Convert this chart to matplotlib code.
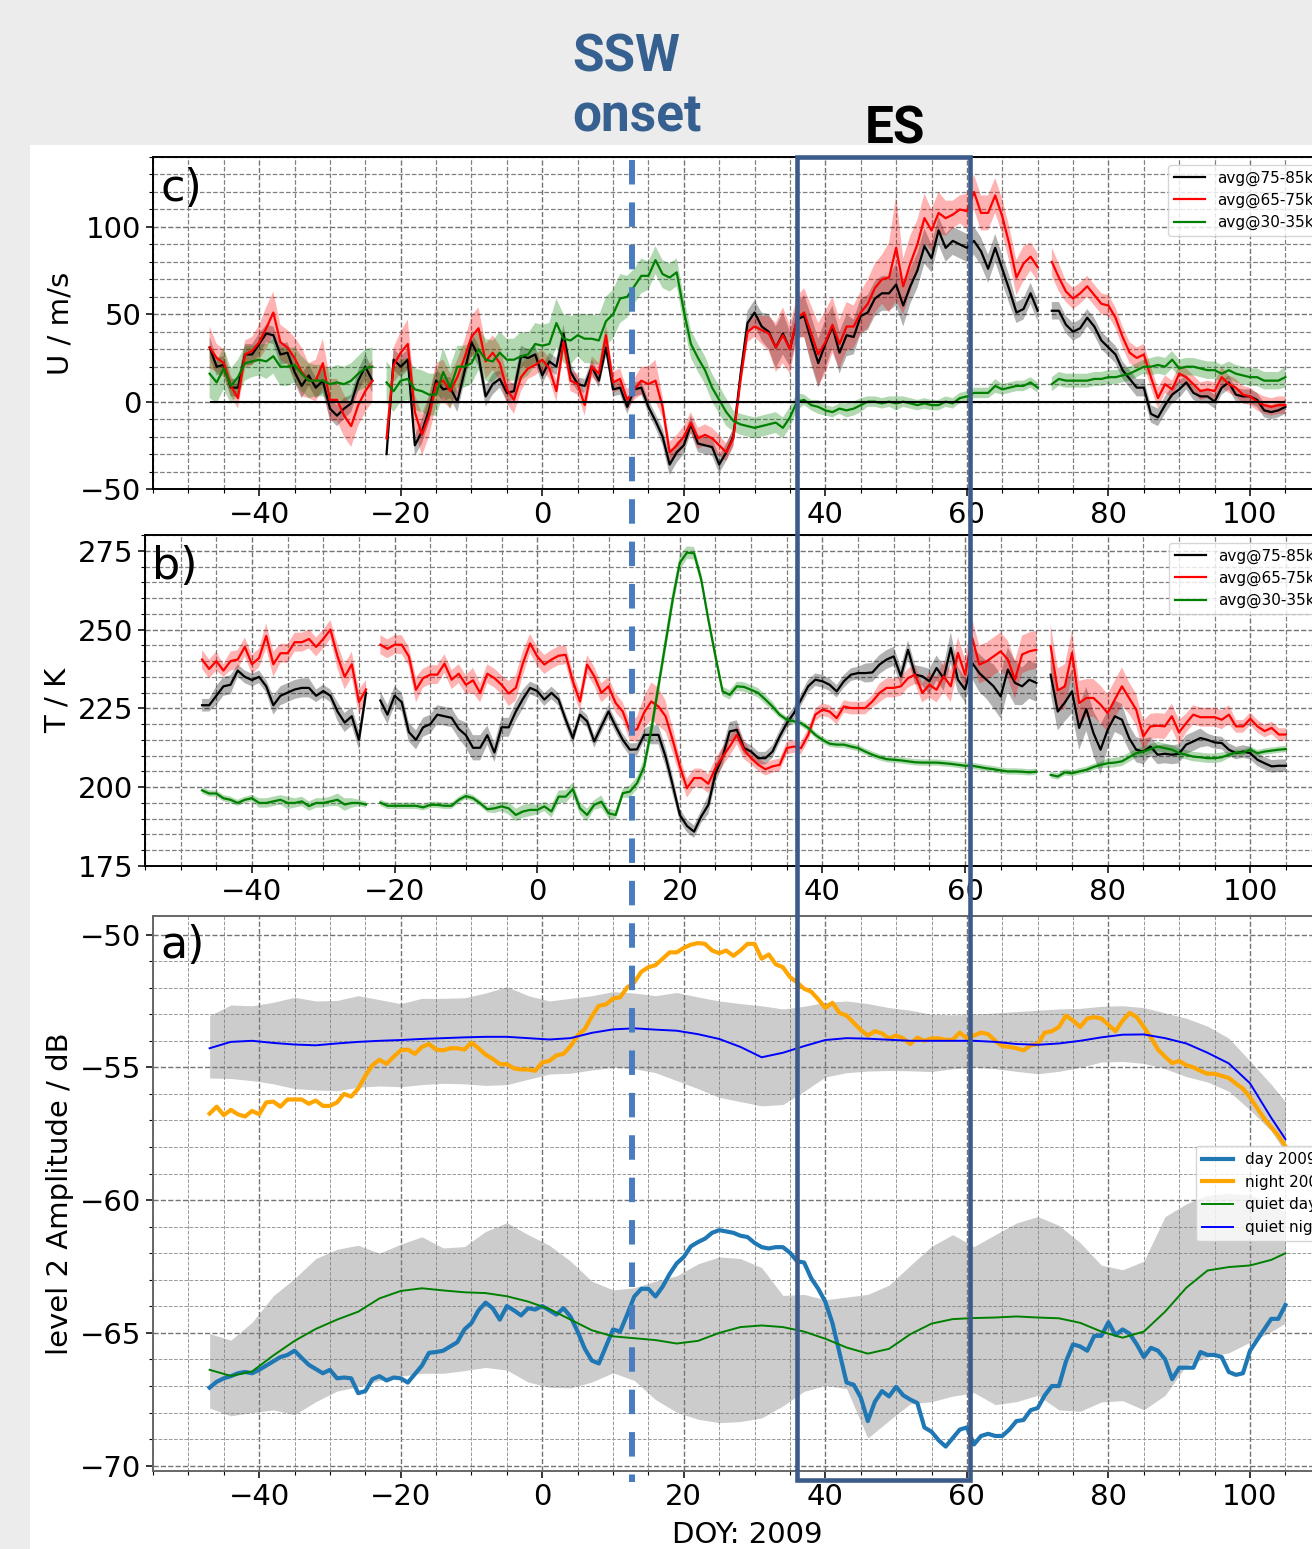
import numpy as np
import matplotlib
matplotlib.use("Agg")
import matplotlib.pyplot as plt
from matplotlib.ticker import MultipleLocator
from matplotlib.lines import Line2D
from matplotlib.patches import Rectangle

nan = np.nan

# --- dados: dias (DOY 2009), uma falha em -23 e outra em 71 ---
days = np.arange(-47, 106)

# painel c) vento zonal U (m/s), 3 segmentos
u_black = [[31, 20, 21, 8, 8, 27, 27, 33, 39, 38, 27, 28, 17, 9, 15, 8, 12, -4, -8, -4, -1, 12, 20, 12],
           [-30, 24, 20, 24, -25, -17, -5, 12, 7, 8, 0, 17, 34, 26, 3, 10, 13, 5, 6, 26, 25, 27, 15,
            23, 20, 39, 17, 10, 9, 20, 12, 31, 7, 8, -3, 7, 8, -3, -11, -20, -36, -29, -25, -13, -24, -25, -26,
            -36, -29, -20, 15,
            45, 51, 43, 40, 31, 39, 30, 47, 49, 35, 22, 33, 43, 28, 38, 37, 49, 51, 59, 62, 62, 67, 55, 66, 75,
            89, 82, 98, 88, 92, 90, 88, 92, 86, 76, 88, 76, 64, 51, 53, 62, 52],
           [52, 52, 44, 40, 42, 48, 43, 35, 31, 27, 18, 13, 8, 8, -7, -9, -2, 4, 7, 11, 5, 3, 3, 0, 8, 11, 4, 3,
            3, 1, -5, -6, -5, -3]]
u_red = [[31, 25, 22, 9, 2, 27, 29, 34, 42, 51, 34, 31, 25, 17, 12, 12, 22, 1, 1, -8, -14, -2, 6, 12],
         [-21, 21, 28, 33, -6, -19, -8, 10, 12, 6, 14, 25, 37, 42, 23, 28, 22, 7, 1, 14, 19, 21, 24,
          19, 6, 34, 12, 10, -2, 20, 16, 38, 11, 13, 1, 7, 12, 10, 12, -3, -29, -25, -20, -12, -21, -19, -21,
          -25, -29, -21, 12,
          40, 43, 41, 39, 31, 38, 30, 48, 51, 39, 27, 34, 44, 33, 43, 43, 51, 56, 65, 70, 71, 88, 66, 79, 90,
          105, 98, 108, 105, 107, 110, 109, 120, 108, 108, 118, 106, 90, 71, 79, 83, 77],
         [80, 71, 63, 59, 62, 66, 61, 56, 55, 48, 37, 28, 25, 27, 14, 2, 10, 7, 16, 14, 10, 6, 7, 6, 14, 10, 8,
          4, 3, 0, -2, -3, -2, -2]]
u_green = [[16, 11, 19, 9, 14, 22, 23, 24, 23, 26, 20, 20, 21, 16, 12, 12, 12, 10, 11, 10, 12, 16, 19, 20],
           [11, 6, 12, 13, 7, 6, 4, 4, 17, 8, 20, 20, 22, 30, 24, 23, 28, 24, 24, 26, 27, 33, 32,
            33, 45, 36, 35, 38, 36, 36, 35, 46, 50, 59, 60, 66, 72, 72, 81, 73, 71, 74, 52, 33, 25, 18, 8, 1,
            -6, -11, -13, -14, -15, -14, -13, -12, -15, -9, 0,
            1, -2, -3, -5, -6, -4, -5, -4, -2, 0, 0, -1, 0, -1, 0, -1, -2, -1, -2, -2, 0, -1, 2, 3, 5, 5, 5, 9,
            7, 8, 9, 9, 11, 8],
           [10, 13, 12, 12, 12, 12, 13, 13, 14, 14, 15, 16, 18, 20, 20, 21, 20, 24, 19, 20, 20, 19, 18, 18, 16,
            18, 16, 15, 14, 14, 12, 12, 12, 14]]
u_black_sd = [[6, 5, 5, 5, 5, 6, 6, 6, 5, 5, 6, 6, 6, 7, 6, 6, 7, 6, 6, 6, 5, 6, 7, 7],
              [4, 6, 6, 6, 6, 7, 7, 7, 7, 6, 6, 6, 6, 6, 6, 6, 5, 5, 5, 6, 5, 5, 5,
               5, 5, 5, 5, 4, 4, 4, 4, 5, 4, 4, 4, 4, 4, 4, 4, 5, 6, 6, 5, 5, 5, 5, 5, 5, 5, 5, 5,
               7, 7, 8, 10, 12, 12, 10, 10, 12, 14, 14, 14, 12, 12, 12, 10, 10, 10, 10, 10, 10, 12, 12, 10,
               10, 10, 8, 8, 8, 8, 8, 8, 8, 8, 8, 8, 8, 8, 6, 6, 6, 6],
              [5, 5, 5, 5, 5, 5, 5, 5, 5, 5, 5, 5, 5, 5, 5, 5, 5, 5, 5, 4, 4, 4, 4, 4, 4, 4, 4, 4, 4, 4, 4, 4, 4, 4]]
u_red_sd = [[12, 8, 8, 6, 6, 8, 8, 10, 12, 12, 10, 10, 12, 14, 10, 12, 14, 12, 12, 12, 12, 12, 12, 12],
            [8, 10, 12, 14, 10, 12, 12, 12, 12, 10, 10, 10, 12, 12, 10, 10, 10, 8, 8, 8, 6, 6, 6,
             6, 6, 6, 6, 6, 6, 6, 6, 6, 6, 6, 6, 6, 8, 10, 12, 6, 6, 6, 6, 6, 6, 6, 6, 6, 5, 5, 5,
             6, 6, 8, 10, 14, 16, 14, 12, 14, 16, 18, 18, 16, 14, 14, 12, 12, 14, 14, 14, 20, 30, 16, 16,
             14, 14, 12, 12, 10, 8, 8, 10, 10, 10, 10, 10, 10, 10, 10, 10, 8, 8],
            [8, 8, 6, 6, 6, 6, 6, 6, 6, 6, 6, 6, 6, 6, 6, 6, 5, 5, 5, 5, 5, 5, 5, 5, 6, 5, 5, 5, 5, 5, 5, 5, 5, 5]]
u_green_sd = [[14, 12, 12, 10, 10, 10, 9, 9, 10, 10, 11, 11, 10, 10, 10, 9, 9, 9, 10, 10, 10, 10, 11, 11],
              [12, 12, 12, 12, 12, 12, 12, 12, 14, 12, 12, 12, 12, 12, 12, 12, 12, 12, 12, 14, 12, 12, 12,
               12, 14, 14, 14, 12, 14, 14, 14, 14, 14, 14, 12, 10, 10, 8, 8, 8, 8, 8, 8, 8, 8, 8, 8, 8, 8,
               6, 6, 6, 6, 6, 6, 6, 6, 6, 5,
               3, 3, 4, 3, 3, 3, 4, 4, 4, 3, 3, 3, 3, 4, 3, 3, 3, 3, 3, 3, 3, 3, 3, 3, 3, 3, 3, 4, 3, 3, 3, 3,
               3, 3],
              [4, 4, 4, 4, 4, 4, 4, 4, 4, 4, 4, 4, 4, 4, 5, 5, 5, 5, 5, 5, 5, 5, 5, 5, 5, 5, 5, 5, 5, 5, 5, 5, 5, 6]]

# painel b) temperatura T (K)
t_black = [[226, 226, 229, 232, 232.5, 237, 235, 234, 235, 232, 226, 229, 230, 231, 231.5, 231.5, 229, 230.5,
            229, 224, 220.5, 222.5, 215, 230],
           [227.5, 223, 229, 227, 217.5, 215, 219, 220, 223, 222.5, 222, 218.5, 216.5, 212.5, 212.5, 216.5,
            211, 219, 219, 224, 228, 231.5, 230.5,
            227.8, 229.9, 227.8, 221.4, 215.6, 223, 220.9, 214.5, 219.3, 224, 219.3, 215, 211.9, 212, 216.6,
            216.6, 216.6, 209.7, 200.7, 191.2, 187.7, 185.9, 190.7, 194.4, 204.4, 209.7, 217.7, 218.2, 212.4,
            211.3, 209.2, 209.2, 211.3, 216.1, 220.3,
            223.5, 227.8, 232, 234.1, 233.6, 232.5, 230.4, 233.6, 235.7, 236.2, 236.2, 236.4, 238.9, 240.5,
            241.5, 235.2, 243.6, 235.7, 235.2, 233.6, 237.8, 234.6, 244.2, 234.1, 231, 239.4, 236.2, 234.1,
            232, 228.8, 237.3, 233.1, 232, 234.1, 233.1],
           [235.7, 224, 226.9, 230.4, 218.8, 224.8, 217.2, 211.9, 218.2, 222.5, 221.4, 215.6, 211.9, 211.3,
            212.9, 210.3, 210.6, 210.3, 210.6, 213.5, 214.5, 215.6, 215, 214.2, 214, 211.9, 210.8, 211.3,
            210.8, 208.7, 207.6, 206.6, 206.8, 206.8]]
t_red = [[240.5, 237.5, 240, 237, 240, 240.5, 244.5, 239, 241, 248, 239, 242.5, 242.5, 246, 246, 247, 244.5,
          247, 250, 241.5, 235, 239, 227, 231],
         [245.2, 243.9, 245.2, 245.2, 241.5, 230.9, 234.6, 235.7, 235.7, 239.2, 234.1, 236, 232.5, 233.9,
          229.9, 236, 234.6, 232.5, 229.7, 231.5, 239.4, 245.6, 241.5,
          238.9, 240.5, 241.7, 242, 233.6, 227.2, 238.9, 235.2, 229.9, 232, 226.7, 224, 217.7, 218.4, 223.7,
          227.2, 225.6, 222.5, 215, 206.6, 199.7, 202.9, 202.9, 201.1, 206.1, 209.7, 212.9, 216.6, 211.9,
          209.2, 207.1, 205.7, 206.6, 207.1, 212.4,
          212.9, 212.4, 216.6, 223, 224.6, 224, 221.9, 225.6, 225.1, 225.1, 225.1, 227.2, 229.9, 231.5,
          231.5, 232, 234.6, 235.7, 229.9, 232.5, 230.9, 235.2, 232, 242.6, 235.7, 247.4, 238.9, 239.9,
          241.5, 243.1, 240.5, 234.1, 242.1, 243.1, 243.6],
         [244.7, 230.7, 232, 242.6, 226.7, 228.3, 228.3, 226.2, 223.5, 227.8, 232, 228.3, 224.6, 216.1, 219.3,
          219.5, 219.3, 222.5, 217.4, 220.3, 223, 222.2, 222.2, 222.2, 221.4, 223, 219.3, 219.3, 221.7,
          219.3, 217.8, 218.8, 216.7, 216.7]]
t_green = [[199, 198, 198, 196.5, 196, 195, 196, 196.5, 195, 195, 195.5, 196, 195, 195, 195.5, 194, 195, 195,
            195.5, 196, 194.5, 195, 195, 194.5],
           [195.1, 194.1, 194.1, 194.1, 194.1, 194.1, 193.6, 194.4, 194.4, 194.1, 194.1, 196, 197.2, 196.5,
            194.9, 193, 193.3, 193.9, 193.3, 191.2, 192.3, 192.8, 192.8,
            193.9, 192.3, 197, 197, 199.4, 193.3, 191.2, 194.4, 195.4, 191.7, 191.2, 198.1, 198.6, 201.3,
            206.6, 218.2, 232, 245.8, 259.5, 271.2, 274.4, 274.2, 265.9, 253.2, 241.5, 230.4, 229.3, 232,
            231.8, 230.9, 229.9, 227.8, 225.6, 223, 221.4,
            220.9, 220.3, 218.8, 216.6, 215, 213.8, 213.5, 213.5, 212.9, 212.4, 211.3, 210.3, 209.5, 208.9,
            208.7, 208.5, 208.2, 207.9, 207.8, 207.8, 207.8, 207.6, 207.4, 207.1, 206.8, 206.8, 206.4, 206,
            205.7, 205.3, 205, 205, 204.9, 204.7, 204.9],
           [203.9, 203.4, 204.7, 204.4, 205, 205.5, 206.4, 207.1, 207.6, 207.8, 208.2, 209.5, 210.8, 211.3,
            212.1, 212.9, 212.4, 211.9, 210.8, 210.3, 209.7, 209.5, 209.2, 209.2, 209.5, 210.3, 211, 211,
            211.9, 210.8, 211.3, 211.6, 211.9, 212.1]]
t_black_sd = [[2, 2, 3, 3, 3, 2, 2, 2, 2, 2, 3, 3, 3, 3, 3, 3, 2, 2, 2, 3, 3, 3, 3, 3],
              [3, 3, 3, 3, 3, 3, 3, 3, 3, 3, 3, 3, 4, 4, 4, 3, 3, 3, 3, 3, 3, 2, 2,
               2, 2, 2, 2, 2, 2, 2, 2, 2, 2, 2, 2, 2, 2, 2, 3, 3, 3, 3, 2, 2, 2, 2, 3, 3, 3, 3, 3, 2, 2, 2,
               2, 2, 2, 2,
               2, 2, 2, 2, 2, 2, 2, 2, 2, 2, 3, 3, 3, 3, 3, 3, 3, 3, 3, 4, 4, 4, 5, 4, 4, 5, 6, 6, 7, 7, 7,
               7, 6, 6, 6],
              [6, 6, 6, 7, 7, 7, 7, 8, 6, 5, 5, 4, 4, 4, 3, 3, 3, 3, 3, 3, 3, 3, 2, 2, 2, 2, 2, 2, 2, 2, 2, 2, 2, 2]]
t_red_sd = [[3, 3, 3, 2, 3, 3, 3, 3, 3, 4, 4, 3, 3, 3, 3, 3, 3, 3, 3, 4, 4, 4, 4, 3],
            [3, 3, 3, 3, 3, 4, 3, 3, 3, 3, 3, 3, 3, 4, 3, 3, 3, 3, 4, 4, 4, 3, 3,
             3, 3, 3, 3, 3, 3, 3, 3, 3, 3, 3, 3, 3, 4, 5, 6, 6, 5, 4, 3, 3, 3, 3, 3, 3, 3, 3, 3, 3, 2, 2,
             2, 2, 2, 2,
             2, 2, 2, 2, 2, 2, 2, 2, 2, 2, 2, 2, 3, 3, 3, 3, 3, 3, 3, 4, 4, 5, 5, 5, 5, 6, 6, 6, 6, 6, 6,
             6, 6, 6, 6],
            [7, 7, 7, 7, 7, 6, 6, 6, 6, 6, 6, 5, 5, 5, 4, 4, 4, 4, 4, 3, 3, 3, 3, 3, 3, 3, 2, 2, 2, 2, 2, 2, 2, 2]]
t_green_sd = [[1, 1, 1, 1, 1, 1, 1, 1, 1.5, 1.5, 1.5, 1.5, 2, 1.5, 1.5, 1.5, 1.5, 1.5, 1.5, 2, 2, 1.5, 1, 1],
              [1, 1, 1, 1, 1, 1, 1, 1, 1, 1, 1, 1, 1, 1, 1, 1, 1.5, 1.5, 2, 2, 2, 2, 1.5,
               1.5, 2, 2, 2, 2, 2, 2, 1.5, 2, 1.5, 1.5, 1.5, 2, 2, 2.5, 3, 3, 3, 3, 2.5, 2, 2, 2, 2, 2, 1.5,
               1.5, 1.5, 1.5, 1.5, 1.5, 1.5, 1.5, 1, 1,
               1, 1, 1, 1, 1, 1, 1, 1, 1, 1, 1, 1, 1, 1, 1, 1, 1, 1, 1, 1, 1, 1, 1, 1, 1, 1, 1, 1, 1, 1, 1,
               1, 1, 1, 1],
              [1, 1, 1, 1, 1, 1, 1, 1, 1.5, 1.5, 1.5, 1.5, 1.5, 1.5, 1.5, 1.5, 1.5, 1.5, 1.5, 1.5, 1.5, 1.5,
               1.5, 1.5, 1.5, 1, 1, 1, 1, 1, 1, 1, 1, 1]]

# painel a) amplitude (dB) 2009, diaria
day2009 = [-67.06, -66.84, -66.71, -66.63, -66.52, -66.47, -66.52, -66.39, -66.23, -66.07,
           -65.91, -65.83, -65.67, -65.94, -66.2, -66.36, -66.52, -66.39, -66.71, -66.68,
           -66.71, -67.27, -67.19, -66.74, -66.63, -66.79, -66.68, -66.71, -66.87, -66.55,
           -66.23, -65.75, -65.72, -65.67, -65.51, -65.35, -64.87, -64.63, -64.15, -63.86,
           -64.07, -64.5, -63.99, -64.15, -64.34, -64.07, -64.12,
           -63.99, -64.15, -64.31, -64.07, -64.39, -64.95, -65.59, -66.04, -66.15, -65.51,
           -64.87, -64.95, -64.31, -63.63, -63.34, -63.34, -63.63, -63.26, -62.78, -62.38, -62.14,
           -61.74, -61.58, -61.45, -61.23, -61.13, -61.18, -61.23, -61.34, -61.39, -61.61,
           -61.77, -61.82, -61.77, -61.77, -61.98, -62.3, -62.35, -62.94, -63.34, -63.83,
           -64.63, -65.75, -66.87, -66.95, -67.43, -68.32, -67.59, -67.19, -67.39, -67.03,
           -67.35, -67.51, -67.64, -68.56, -68.72, -69.04, -69.28, -68.96, -68.64, -68.56,
           -69.2, -68.88, -68.8, -68.88, -68.88, -68.64, -68.32, -68.28, -67.91, -67.83,
           -67.35, -67.0, -67.0, -66.07, -65.43, -65.51, -65.67, -65.11, -65.11, -64.6,
           -65.08, -64.87, -65.03, -65.43, -65.91, -65.56, -65.67, -65.99, -66.74, -66.31,
           -66.31, -66.31, -65.72, -65.83, -65.83, -65.91, -66.47, -66.58, -66.52, -65.67,
           -65.27, -64.87, -64.47, -64.47, -63.95]
night2009 = [-56.74, -56.48, -56.8, -56.6, -56.77, -56.85, -56.64, -56.77, -56.32, -56.29,
             -56.48, -56.21, -56.21, -56.21, -56.37, -56.25, -56.45, -56.45, -56.32, -56.0,
             -56.1, -55.8, -55.32, -54.92, -54.71, -54.87, -54.6, -54.36, -54.33, -54.49,
             -54.23, -54.12, -54.33, -54.36, -54.28, -54.28, -54.33, -54.07, -54.28, -54.52,
             -54.68, -54.88, -54.88, -55.04, -55.08, -55.08, -55.13,
             -54.81, -54.76, -54.55, -54.49, -54.2, -53.8, -53.56, -53.08, -52.68, -52.63,
             -52.41, -52.36, -51.99, -51.8, -51.4, -51.23, -51.15, -50.91, -50.67, -50.67, -50.5,
             -50.38, -50.32, -50.35, -50.6, -50.7, -50.6, -50.8, -50.6, -50.35, -50.35,
             -50.91, -50.75, -51.12, -51.23, -51.6, -51.8, -52.04, -52.15, -52.44, -52.76,
             -52.57, -52.95, -53.05, -53.32, -53.59, -53.8, -53.64, -53.72, -53.91, -53.8,
             -53.91, -54.12, -53.88, -54.0, -53.91, -53.91, -53.96, -53.96, -53.69, -53.91,
             -53.8, -53.69, -53.75, -54.0, -54.2, -54.23, -54.28, -54.36, -54.17, -54.12,
             -53.69, -53.64, -53.48, -53.05, -53.24, -53.48, -53.16, -53.11, -53.16, -53.4,
             -53.64, -53.24, -52.95, -53.11, -53.48, -53.88, -54.33, -54.6, -54.84, -54.76,
             -54.92, -55.0, -55.13, -55.24, -55.24, -55.32, -55.4, -55.61, -55.8, -56.13,
             -56.53, -56.93, -57.25, -57.57, -57.97]

# referencia "quiet" (a cada 3 dias)
quiet_days = np.r_[np.arange(-47, 104, 3), 105]
quiet_night = [-54.28, -54.04, -54.0, -54.08, -54.14, -54.17, -54.1, -54.04, -54.0, -53.97,
               -53.93, -53.9, -53.87, -53.85, -53.85, -53.9, -53.95, -53.9, -53.7, -53.57,
               -53.53, -53.58, -53.62, -53.75, -53.93, -54.23, -54.62, -54.45, -54.2, -53.97,
               -53.9, -53.92, -53.96, -54.0, -54.0, -54.0, -54.0, -54.04, -54.12, -54.15,
               -54.1, -54.0, -53.87, -53.77, -53.76, -53.9, -54.1, -54.45, -54.85, -55.6,
               -56.9, -57.7]
night_hi = [-53.05, -52.65, -52.68, -52.55, -52.36, -52.5, -52.48, -52.3, -52.45, -52.6,
            -52.4, -52.4, -52.38, -52.2, -51.96, -52.3, -52.5, -52.4, -52.3, -52.15,
            -52.2, -52.3, -52.18, -52.35, -52.5, -52.6, -52.68, -52.8, -52.7, -52.55,
            -52.5, -52.6, -52.75, -52.85, -53.0, -53.02, -53.0, -52.95, -52.9, -52.85,
            -52.8, -52.78, -52.7, -52.68, -52.75, -52.95, -53.15, -53.45, -53.9, -54.76,
            -55.64, -56.29]
night_lo = [-55.4, -55.42, -55.5, -55.62, -55.8, -55.85, -55.88, -55.75, -55.7, -55.73,
            -55.65, -55.6, -55.62, -55.68, -55.65, -55.45, -55.25, -55.22, -55.1, -55.0,
            -55.05, -55.2, -55.5, -55.8, -56.13, -56.29, -56.45, -56.4, -55.9, -55.36,
            -55.2, -55.14, -55.12, -55.13, -55.16, -55.05, -55.0, -55.05, -55.15, -55.24,
            -55.15, -55.0, -54.8, -54.78, -54.85, -55.05, -55.35, -55.55, -55.9, -56.6,
            -57.4, -58.2]
quiet_day = [-66.39, -66.62, -66.45, -65.85, -65.3, -64.85, -64.5, -64.2, -63.7, -63.42,
             -63.32, -63.4, -63.47, -63.5, -63.62, -63.82, -64.1, -64.5, -64.9, -65.13,
             -65.2, -65.27, -65.4, -65.3, -65.0, -64.78, -64.72, -64.78, -64.95, -65.22,
             -65.55, -65.78, -65.6, -65.05, -64.65, -64.48, -64.44, -64.42, -64.38, -64.42,
             -64.45, -64.62, -64.95, -65.18, -64.95, -64.2, -63.3, -62.65, -62.52, -62.46,
             -62.25, -62.0]
day_hi = [-65.03, -65.27, -64.6, -63.6, -62.95, -62.2, -61.85, -61.7, -62.0, -61.66,
          -61.38, -61.8, -61.75, -61.18, -60.85, -61.3, -61.7, -62.3, -63.05, -63.38,
          -63.3, -63.05, -62.85, -62.4, -62.14, -62.2, -62.54, -63.59, -63.55, -63.75,
          -63.65, -63.55, -63.2, -62.46, -61.74, -61.3, -61.75, -61.3, -60.86, -60.62,
          -60.95, -61.6, -62.45, -62.62, -62.3, -60.62, -60.14, -59.82, -59.74, -59.8,
          -60.1, -60.46]
day_lo = [-67.83, -68.12, -68.0, -67.9, -68.08, -67.59, -67.19, -67.03, -66.79, -66.63,
          -66.52, -66.52, -66.42, -66.3, -66.4, -66.85, -67.05, -67.07, -66.85, -66.5,
          -66.79, -67.51, -67.99, -68.25, -68.38, -68.34, -68.2, -67.75, -67.2, -66.98,
          -67.1, -68.96, -68.3, -67.67, -67.59, -67.38, -67.25, -67.7, -67.59, -67.35,
          -67.9, -67.95, -67.6, -67.55, -67.9, -67.35, -66.23, -65.91, -65.75, -65.35,
          -64.95, -64.63]

ssw_day = 12.7
es_days = [36, 60.4]
alt_labels = ["avg@75-85km", "avg@65-75km", "avg@30-35km"]


def juntar(segs):
    """Concatena os segmentos com NaN nas falhas."""
    out = []
    for i, s in enumerate(segs):
        if i:
            out.append(nan)
        out.extend(s)
    return np.array(out, dtype=float)


# --- figura ---
W, H = 1312, 1549
fig = plt.figure(figsize=(W / 100, H / 100), dpi=100, facecolor="#ececec")
fig.add_artist(Rectangle((30 / W, 0), 1 - 30 / W, 1 - 145 / H, transform=fig.transFigure,
                         facecolor="white", edgecolor="none", zorder=-5))


def caixa(l, t, r, b):
    return [l / W, 1 - b / H, (r - l) / W, (b - t) / H]


# o recorte original corta os paineis a direita (eixos vao ate x=113)
ax_c = fig.add_axes(caixa(153, 157, 1342, 489))
ax_b = fig.add_axes(caixa(145, 535, 1343, 866))
ax_a = fig.add_axes(caixa(153, 916, 1342, 1471))


def estilo(ax, maior, menor, cor_spine, cor_menor, lw_menor):
    ax.set_xlim(-55, 113)
    ax.set_xticks([-40, -20, 0, 20, 40, 60, 80, 100])
    ax.xaxis.set_minor_locator(MultipleLocator(5))
    ax.yaxis.set_major_locator(MultipleLocator(maior))
    ax.yaxis.set_minor_locator(MultipleLocator(menor))
    ax.grid(which="major", ls="--", color="0.45", lw=1.0)
    ax.grid(which="minor", ls="--", color=cor_menor, lw=lw_menor)
    ax.set_axisbelow(True)
    ax.tick_params(which="major", labelsize=21, length=5, width=1.1)
    ax.tick_params(which="minor", length=3, width=0.8)
    for sp in ax.spines.values():
        sp.set_color(cor_spine)
        sp.set_linewidth(1.4)


# --- c) vento ---
cores = ["k", "r", "g"]
for vals, sd, cor, lab in zip([u_black, u_red, u_green], [u_black_sd, u_red_sd, u_green_sd], cores, alt_labels):
    v, s = juntar(vals), juntar(sd)
    ax_c.fill_between(days, v - s, v + s, color=cor, alpha=0.3, lw=0)
    ax_c.plot(days, v, color=cor, lw=1.6, label=lab)
ax_c.hlines(0, days[0], days[-1], color="k", lw=1.5)
ax_c.set_ylim(-50, 140)
estilo(ax_c, 50, 10, "k", "0.5", 0.9)
ax_c.set_ylabel("U / m/s", fontsize=21)
ax_c.legend(loc="upper right", fontsize=11, labelspacing=0.45)
ax_c.text(0.006, 0.97, "c)", transform=ax_c.transAxes, fontsize=32, va="top", ha="left")

# --- b) temperatura ---
for vals, sd, cor, lab in zip([t_black, t_red, t_green], [t_black_sd, t_red_sd, t_green_sd], cores, alt_labels):
    v, s = juntar(vals), juntar(sd)
    ax_b.fill_between(days, v - s, v + s, color=cor, alpha=0.3, lw=0)
    ax_b.plot(days, v, color=cor, lw=1.6, label=lab)
ax_b.set_ylim(175, 280)
estilo(ax_b, 25, 5, "k", "0.5", 0.9)
ax_b.set_ylabel("T / K", fontsize=21)
ax_b.legend(loc="upper right", fontsize=11, labelspacing=0.45)
ax_b.text(0.006, 0.97, "b)", transform=ax_b.transAxes, fontsize=32, va="top", ha="left")

# --- a) amplitude ---
ax_a.fill_between(quiet_days, night_lo, night_hi, color="gray", alpha=0.4, lw=0)
ax_a.fill_between(quiet_days, day_lo, day_hi, color="gray", alpha=0.4, lw=0)
ax_a.plot(days, day2009, color="#1f77b4", lw=3, label="day 2009")
ax_a.plot(days, night2009, color="orange", lw=3, label="night 2009")
ax_a.plot(quiet_days, quiet_day, color="green", lw=1.4, label="quiet day")
ax_a.plot(quiet_days, quiet_night, color="blue", lw=1.4, label="quiet night")
ax_a.set_ylim(-70.2, -49.3)
estilo(ax_a, 5, 1, "0.4", "0.6", 0.7)
ax_a.set_ylabel("level 2 Amplitude / dB", fontsize=21)
ax_a.set_xlabel("DOY: 2009", fontsize=21, labelpad=7)
ax_a.legend(loc="center right", fontsize=11, labelspacing=0.5)
ax_a.text(0.006, 0.985, "a)", transform=ax_a.transAxes, fontsize=32, va="top", ha="left")

# --- marcas SSW e ES sobre os tres paineis ---
inv = fig.transFigure.inverted()
x_ssw = inv.transform(ax_a.transData.transform((ssw_day, 0)))[0]
fig.add_artist(Line2D([x_ssw, x_ssw], [1 - 160 / H, 1 - 1482 / H], transform=fig.transFigure,
                      color="#4a7dbf", lw=4.3, dashes=(4.1, 3.0), zorder=20))

x0 = inv.transform(ax_c.transData.transform((es_days[0], 0)))[0]
x1 = inv.transform(ax_c.transData.transform((es_days[1], 0)))[0]
y_top = ax_c.get_position().y1
y_bot = 1 - 1480 / H
fig.add_artist(Rectangle((x0, y_bot), x1 - x0, y_top - y_bot, transform=fig.transFigure,
                         fill=False, edgecolor="#3c5a8a", lw=3.3, zorder=21))

fig.text(572 / W, 1 - 72 / H, "SSW", fontsize=37, fontweight="bold", color="#36608f",
         family="Roboto", ha="left", va="baseline")
fig.text(572 / W, 1 - 132 / H, "onset", fontsize=37, fontweight="bold", color="#36608f",
         family="Roboto", ha="left", va="baseline")
fig.text(895 / W, 1 - 143 / H, "ES", fontsize=37, fontweight="bold", color="k",
         family="Roboto", ha="center", va="baseline")

fig.savefig("out.png", dpi=100, facecolor=fig.get_facecolor())
